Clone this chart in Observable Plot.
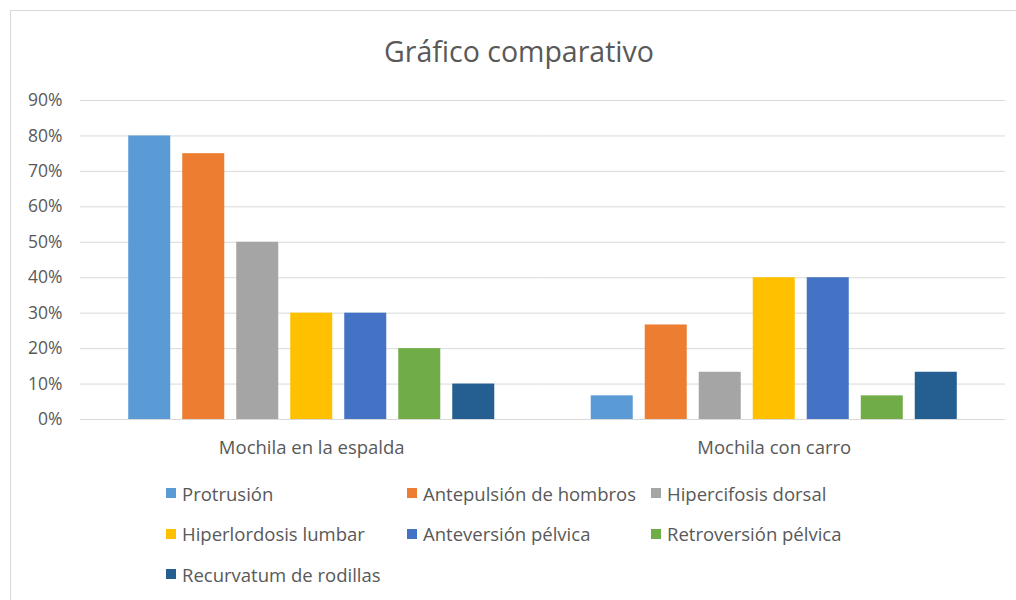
<!DOCTYPE html>
<html>
<head>
<meta charset="utf-8">
<script src="https://cdn.jsdelivr.net/npm/d3@7"></script>
<script src="https://cdn.jsdelivr.net/npm/@observablehq/plot@0.6"></script>
<style>
  html, body { margin: 0; padding: 0; background: #fff; }
  body { width: 1016px; height: 600px; position: relative; overflow: hidden; font-family: "Open Sans", sans-serif; color: #595959; }
  #frame { position: absolute; left: 10px; top: 10px; width: 1020px; height: 600px; border: 1px solid #d9d9d9; box-sizing: border-box; }
  #title { position: absolute; left: 0; width: 1038px; top: 32px; text-align: center; font-size: 28.5px; color: #595959; }
  #chart { position: absolute; left: 0; top: 80px; }
  #legend { position: absolute; left: 166px; top: 481px; display: grid; grid-template-columns: 241px 244px 241px; row-gap: 16.5px; font-size: 18.5px; color: #595959; }
  .item { display: flex; align-items: center; height: 24px; white-space: nowrap; }
  .sw { width: 10px; height: 10px; margin-right: 6px; flex: none; }
</style>
</head>
<body>
<div id="frame"></div>
<div id="title">Gráfico comparativo</div>
<div id="chart"></div>
<div id="legend"></div>
<script>
const groups = ["Mochila en la espalda", "Mochila con carro"];
const series = ["Protrusión", "Antepulsión de hombros", "Hipercifosis dorsal", "Hiperlordosis lumbar", "Anteversión pélvica", "Retroversión pélvica", "Recurvatum de rodillas"];
const espalda = [80, 75, 50, 30, 30, 20, 10];
const carro = [6.67, 26.67, 13.33, 40, 40, 6.67, 13.33];
const colors = ["#5B9BD5", "#ED7D31", "#A5A5A5", "#FFC000", "#4472C4", "#70AD47", "#255E91"];
const yTicks = [0, 10, 20, 30, 40, 50, 60, 70, 80, 90];

const data = [];
[espalda, carro].forEach((vals, gi) => {
  vals.forEach((v, si) => data.push({group: groups[gi], serie: series[si], value: v}));
});

const plot = Plot.plot({
  width: 1016,
  height: 400,
  marginTop: 20,
  marginBottom: 61,
  marginLeft: 80,
  marginRight: 11,
  style: {fontFamily: "Open Sans, sans-serif", fontSize: "18.5px", color: "#595959", background: "transparent"},
  fx: {domain: groups, padding: 0, round: false, label: null, tickSize: 0, tickPadding: 21},
  x: {domain: series, paddingInner: 0.222, paddingOuter: 0.893, round: false, axis: null},
  y: {domain: [0, 90], ticks: yTicks, label: null},
  color: {domain: series, range: colors},
  marks: [
    Plot.ruleY(yTicks, {stroke: "#d9d9d9", strokeOpacity: 1}),
    Plot.barY(data, {fx: "group", x: "serie", y: "value", fill: "serie"}),
    Plot.axisY(yTicks, {tickSize: 0, tickPadding: 18, tickFormat: d => d + "%", fontSize: 17.5, label: null})
  ]
});
document.getElementById("chart").appendChild(plot);

const legend = document.getElementById("legend");
series.forEach((s, i) => {
  const it = document.createElement("div");
  it.className = "item";
  const sw = document.createElement("span");
  sw.className = "sw";
  sw.style.background = colors[i];
  const t = document.createElement("span");
  t.textContent = s;
  it.appendChild(sw);
  it.appendChild(t);
  legend.appendChild(it);
});
</script>
</body>
</html>
